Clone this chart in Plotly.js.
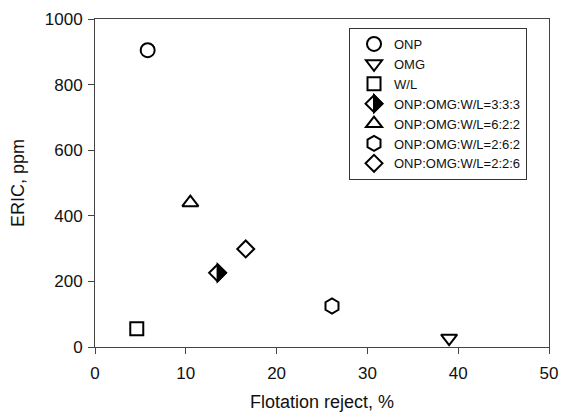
<!DOCTYPE html>
<html>
<head>
<meta charset="utf-8">
<script src="https://cdn.plot.ly/plotly-3.0.1.min.js"></script>
<style>html,body{margin:0;padding:0;background:#fff;}#chart{width:568px;height:412px;}</style>
</head>
<body>
<div id="chart"></div>
<script>
// ---- data ----
const seriesNames = ['ONP', 'OMG', 'W/L', 'ONP:OMG:W/L=3:3:3', 'ONP:OMG:W/L=6:2:2', 'ONP:OMG:W/L=2:6:2', 'ONP:OMG:W/L=2:2:6'];
const flotationReject = [5.8, 39.0, 4.6, 13.5, 10.5, 26.1, 16.6];
const ericPpm = [905, 27, 56, 226, 440, 125, 299];
const xTicks = [0, 10, 20, 30, 40, 50];
const yTicks = [0, 200, 400, 600, 800, 1000];

// ---- styles ----
const markerSymbols = ['circle-open', 'triangle-down-open', 'square-open', 'diamond-open', 'triangle-up-open', 'hexagon-open', 'diamond-open'];
const markerSizes = [14, 14, 13, 13, 14, 15, 13];
const halfFilledIndex = 3;
const FONT = '"Liberation Sans", Arial, sans-serif';

const traces = seriesNames.map((name, i) => ({
  type: 'scatter',
  mode: 'markers',
  name: name,
  x: [flotationReject[i]],
  y: [ericPpm[i]],
  marker: {
    symbol: markerSymbols[i],
    size: markerSizes[i],
    color: '#000',
    line: {color: '#000', width: 2}
  },
  cliponaxis: false
}));

const h = 0.65 * markerSizes[halfFilledIndex];
const halfPath = 'M0,' + (-h) + ' L' + h + ',0 L0,' + h + ' Z';

const layout = {
  width: 568,
  height: 412,
  margin: {l: 95, r: 19, t: 19, b: 65},
  paper_bgcolor: '#fff',
  plot_bgcolor: '#fff',
  font: {family: FONT, color: '#111', size: 16},
  showlegend: true,
  legend: {
    x: 0.5595, y: 0.9726, xanchor: 'left', yanchor: 'top',
    bgcolor: 'rgba(255,255,255,0)', bordercolor: '#333', borderwidth: 1,
    font: {family: FONT, size: 13, color: '#111'},
    indentation: 4,
    entrywidth: 174, entrywidthmode: 'pixels',
    tracegroupgap: 0
  },
  xaxis: {
    range: [0, 50],
    tickvals: xTicks,
    ticktext: xTicks.map(String),
    ticks: 'outside', ticklen: 6, tickwidth: 1, tickcolor: '#444',
    showline: true, linecolor: '#444', linewidth: 1, mirror: true,
    showgrid: false, zeroline: false,
    ticklabelstandoff: 5,
    tickfont: {family: FONT, size: 17, color: '#111'},
    title: {text: 'Flotation reject, %', font: {family: FONT, size: 18, color: '#111'}, standoff: 16}
  },
  yaxis: {
    range: [0, 1000],
    tickvals: yTicks,
    ticktext: yTicks.map(String),
    ticks: 'outside', ticklen: 6, tickwidth: 1, tickcolor: '#444',
    showline: true, linecolor: '#444', linewidth: 1, mirror: true,
    showgrid: false, zeroline: false,
    ticklabelstandoff: 2,
    tickfont: {family: FONT, size: 17, color: '#111'},
    title: {text: 'ERIC, ppm', font: {family: FONT, size: 18, color: '#111'}, standoff: 15}
  },
  shapes: [
    {
      type: 'path', xref: 'x', yref: 'y',
      xsizemode: 'pixel', ysizemode: 'pixel',
      xanchor: flotationReject[halfFilledIndex], yanchor: ericPpm[halfFilledIndex],
      path: halfPath,
      fillcolor: '#000', line: {color: '#000', width: 2}
    }
  ]
};

Plotly.newPlot('chart', traces, layout, {displayModeBar: false, staticPlot: true}).then(function (gd) {
  // overlay the filled right half on the legend symbol of the half-filled entry
  const items = gd.querySelectorAll('.legend .traces');
  const item = items[halfFilledIndex];
  if (!item) return;
  const pt = item.querySelector('.legendpoints path');
  if (!pt) return;
  const r = pt.getBoundingClientRect();
  const root = gd.getBoundingClientRect();
  const cx = (r.left + r.right) / 2 - root.left;
  const cy = (r.top + r.bottom) / 2 - root.top;
  const fs = gd._fullLayout._size;
  const px = (cx - fs.l) / fs.w;
  const py = 1 - (cy - fs.t) / fs.h;
  const shapes = layout.shapes.concat([{
    type: 'path', xref: 'paper', yref: 'paper',
    xsizemode: 'pixel', ysizemode: 'pixel',
    xanchor: px, yanchor: py,
    path: halfPath,
    fillcolor: '#000', line: {color: '#000', width: 2}
  }]);
  return Plotly.relayout(gd, {shapes: shapes});
});
</script>
</body>
</html>
